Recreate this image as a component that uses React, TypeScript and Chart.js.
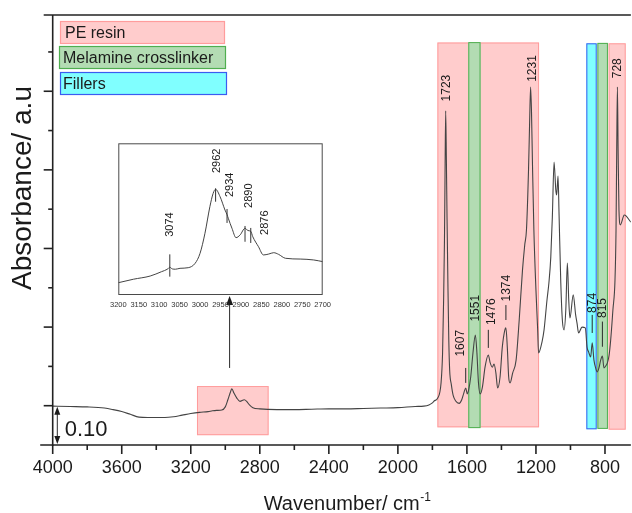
import React, { useEffect, useRef } from 'react';
import { Chart, registerables } from 'chart.js';

Chart.register(...registerables);

const FONT = '"Liberation Sans", Arial, Helvetica, sans-serif';
const INK = '#1b1b1b';

// FTIR spectrum of the coating, 4000–650 cm-1
const wavenumbers = [
  4000, 3900, 3800, 3700, 3650, 3600, 3550, 3500, 3450, 3400, 3350, 3300, 3250, 3200, 3150, 3100,
  3074, 3050, 3020, 3000, 2985, 2970, 2962, 2950, 2934, 2915, 2890, 2876, 2860, 2840, 2800, 2700,
  2600, 2500, 2400, 2300, 2200, 2100, 2000, 1900, 1850, 1820, 1800, 1790, 1770, 1750, 1741, 1735,
  1730, 1727, 1723, 1719, 1715, 1710, 1705, 1700, 1690, 1680, 1665, 1645, 1630, 1618, 1607, 1598,
  1590, 1578, 1565, 1551, 1542, 1533, 1523, 1510, 1495, 1476, 1465, 1453, 1443, 1432, 1422, 1408,
  1395, 1380, 1374, 1366, 1358, 1350, 1335, 1315, 1297, 1278, 1265, 1255, 1243, 1237, 1231, 1226,
  1220, 1212, 1200, 1190, 1185, 1165, 1153, 1136, 1125, 1114, 1105, 1095, 1085, 1080, 1072, 1066,
  1056, 1047, 1037, 1027, 1018, 1010, 1003, 984, 970, 962, 953, 933, 914, 904, 895, 883,
  874, 864, 854, 845, 835, 825, 815, 806, 796, 786, 776, 767, 754, 742, 736, 732,
  728, 724, 719, 711, 688, 650,
];
const absorbance = [
  0.099, 0.098, 0.097, 0.094, 0.090, 0.085, 0.078, 0.071, 0.070, 0.070, 0.070, 0.072, 0.076, 0.080, 0.083, 0.085,
  0.087, 0.088, 0.089, 0.097, 0.115, 0.135, 0.143, 0.132, 0.120, 0.111, 0.115, 0.111, 0.102, 0.095, 0.092, 0.090,
  0.090, 0.091, 0.092, 0.092, 0.093, 0.094, 0.095, 0.098, 0.099, 0.102, 0.107, 0.112, 0.119, 0.157, 0.234, 0.369,
  0.522, 0.674, 0.850, 0.725, 0.573, 0.407, 0.267, 0.191, 0.153, 0.127, 0.112, 0.106, 0.115, 0.132, 0.145, 0.130,
  0.140, 0.173, 0.234, 0.280, 0.234, 0.158, 0.130, 0.148, 0.198, 0.229, 0.209, 0.198, 0.206, 0.183, 0.145, 0.173,
  0.249, 0.293, 0.298, 0.249, 0.173, 0.158, 0.183, 0.216, 0.318, 0.445, 0.509, 0.547, 0.700, 0.814, 0.911, 0.852,
  0.712, 0.547, 0.394, 0.293, 0.234, 0.262, 0.293, 0.369, 0.412, 0.478, 0.580, 0.720, 0.649, 0.636, 0.684, 0.585,
  0.412, 0.318, 0.293, 0.344, 0.463, 0.369, 0.323, 0.382, 0.331, 0.310, 0.285, 0.300, 0.298, 0.249, 0.237, 0.224,
  0.260, 0.216, 0.196, 0.186, 0.196, 0.216, 0.226, 0.196, 0.201, 0.209, 0.229, 0.267, 0.344, 0.420, 0.547, 0.751,
  0.911, 0.751, 0.598, 0.560, 0.585, 0.567,
];

// axis ticks
const majorWavenumberTicks = [4000, 3600, 3200, 2800, 2400, 2000, 1600, 1200, 800];
const minorWavenumberTicks = [3800, 3400, 3000, 2600, 2200, 1800, 1400, 1000];
const majorAbsorbanceTicks = [0.1, 0.3, 0.5, 0.7, 0.9];
const minorAbsorbanceTicks = [0.2, 0.4, 0.6, 0.8, 1.0];

// assigned absorption peaks
const peakPositions = [1723, 1607, 1551, 1476, 1374, 1231, 874, 815, 728];

// inset: C–H stretching region
const insetWavenumbers = [
  3200, 3163, 3122, 3094, 3080, 3074, 3068, 3060, 3049, 3029, 3012, 3000, 2988, 2976, 2968, 2962,
  2951, 2939, 2934, 2931, 2922, 2912, 2902, 2890, 2883, 2876, 2871, 2857, 2845, 2832, 2820, 2808,
  2791, 2755, 2722, 2700,
];
const insetAbsorbance = [
  0.081, 0.104, 0.125, 0.154, 0.170, 0.183, 0.172, 0.170, 0.176, 0.180, 0.209, 0.275, 0.407, 0.582, 0.670, 0.697,
  0.648, 0.560, 0.530, 0.506, 0.440, 0.378, 0.396, 0.440, 0.425, 0.420, 0.384, 0.318, 0.264, 0.270, 0.279, 0.268,
  0.242, 0.237, 0.231, 0.220,
];
const insetTicks = [3200, 3150, 3100, 3050, 3000, 2950, 2900, 2850, 2800, 2750, 2700];
const insetPeakPositions = [3074, 2962, 2934, 2890, 2876];

// band assignment regions
const bandGroups = ['PE resin', 'Melamine crosslinker', 'Fillers'];
const bandGroupOf = [0, 1, 2, 1, 0, 0];
const bandFrom = [1771, 1592, 908, 844, 779, 3164];
const bandTo = [1182, 1521, 848, 783, 680, 2749];
const bandHigh = [1.024, 1.025, 1.022, 1.023, 1.022, 0.150];
const bandLow = [0.045, 0.043, 0.040, 0.041, 0.039, 0.025];

// styling
const bandStyles = [
  { fill: '#ffcccc', edge: '#ff9c9c' },
  { fill: '#b3dcb3', edge: '#4fae4f' },
  { fill: '#80ffff', edge: '#3b5cf0' },
];
const legendBoxes = [
  { x: 60.5, y: 21.5, w: 164, h: 22, tx: 65 },
  { x: 59.5, y: 46.5, w: 166, h: 22, tx: 63 },
  { x: 60.5, y: 72.5, w: 166, h: 22, tx: 63 },
];

// where each peak label and marker sit, in axis units (dx in px)
const peakLabelLayout: Record<number, { text: number; mark?: [number, number]; dx?: number }> = {
  1723: { text: 0.874, dx: 1 },
  1607: { text: 0.225, mark: [0.158, 0.196], dx: -5 },
  1551: { text: 0.314 },
  1476: { text: 0.305, mark: [0.247, 0.293], dx: 3 },
  1374: { text: 0.365, mark: [0.318, 0.356], dx: 1 },
  1231: { text: 0.924, dx: 2 },
  874: { text: 0.336, mark: [0.285, 0.331] },
  815: { text: 0.323, mark: [0.25, 0.314] },
  728: { text: 0.933 },
};
const insetLabelLayout: Record<number, { text: number; mark: [number, number]; dx?: number }> = {
  3074: { text: 0.384, mark: [0.121, 0.268] },
  2962: { text: 0.804, mark: [0.615, 0.703], dx: 1 },
  2934: { text: 0.646, mark: [0.475, 0.567], dx: 3 },
  2890: { text: 0.574, mark: [0.351, 0.455], dx: 4 },
  2876: { text: 0.396, mark: [0.343, 0.442], dx: 14 },
};
const pointerAt = 2975;
const pointerSpan: [number, number] = [0.196, 0.379];

function stroke(ctx: CanvasRenderingContext2D, x1: number, y1: number, x2: number, y2: number) {
  ctx.beginPath();
  ctx.moveTo(x1, y1);
  ctx.lineTo(x2, y2);
  ctx.stroke();
}

function upText(ctx: CanvasRenderingContext2D, text: string, x: number, y: number) {
  ctx.save();
  ctx.translate(x, y);
  ctx.rotate(-Math.PI / 2);
  ctx.textAlign = 'left';
  ctx.textBaseline = 'middle';
  ctx.fillText(text, 0, 0);
  ctx.restore();
}

function arrowHead(ctx: CanvasRenderingContext2D, x: number, y: number, dir: number, w: number, h: number) {
  ctx.beginPath();
  ctx.moveTo(x, y);
  ctx.lineTo(x - w / 2, y + dir * h);
  ctx.lineTo(x + w / 2, y + dir * h);
  ctx.closePath();
  ctx.fill();
}

const spectrumDecor = {
  id: 'spectrumDecor',
  beforeDraw(chart: any) {
    const { ctx } = chart;
    ctx.save();
    ctx.fillStyle = '#ffffff';
    ctx.fillRect(0, 0, chart.width, chart.height);
    ctx.restore();
  },
  beforeDatasetsDraw(chart: any) {
    const { ctx, scales } = chart;
    const { x, y } = scales;
    ctx.save();
    bandFrom.forEach((from, i) => {
      const style = bandStyles[bandGroupOf[i]];
      const l = x.getPixelForValue(from);
      const r = x.getPixelForValue(bandTo[i]);
      const t = y.getPixelForValue(bandHigh[i]);
      const b = y.getPixelForValue(bandLow[i]);
      ctx.fillStyle = style.fill;
      ctx.fillRect(l, t, r - l, b - t);
      ctx.strokeStyle = style.edge;
      ctx.lineWidth = 1;
      ctx.strokeRect(l + 0.5, t + 0.5, r - l - 1, b - t - 1);
    });
    ctx.restore();
  },
  afterDatasetsDraw(chart: any) {
    const { ctx, chartArea: a, scales } = chart;
    const { x, y } = scales;
    ctx.save();

    // frame and axes
    ctx.strokeStyle = '#222';
    ctx.lineWidth = 1.6;
    stroke(ctx, a.left, a.top, a.left, a.bottom + 1);
    stroke(ctx, a.left - 12.5, a.bottom, a.right, a.bottom);
    stroke(ctx, a.left - 9, a.top, a.right, a.top);
    majorWavenumberTicks.forEach((v) => stroke(ctx, x.getPixelForValue(v), a.bottom, x.getPixelForValue(v), a.bottom + 9));
    minorWavenumberTicks.forEach((v) => stroke(ctx, x.getPixelForValue(v), a.bottom, x.getPixelForValue(v), a.bottom + 5));
    majorAbsorbanceTicks.forEach((v) => stroke(ctx, a.left - 9, y.getPixelForValue(v), a.left, y.getPixelForValue(v)));
    minorAbsorbanceTicks.forEach((v) => stroke(ctx, a.left - 4.5, y.getPixelForValue(v), a.left, y.getPixelForValue(v)));

    // peak labels
    ctx.fillStyle = INK;
    ctx.strokeStyle = '#2a2a2a';
    ctx.lineWidth = 1;
    ctx.font = `12px ${FONT}`;
    peakPositions.forEach((wn) => {
      const lay = peakLabelLayout[wn];
      const px = x.getPixelForValue(wn);
      if (lay.mark) stroke(ctx, px, y.getPixelForValue(lay.mark[0]), px, y.getPixelForValue(lay.mark[1]));
      upText(ctx, String(wn), px + (lay.dx || 0), y.getPixelForValue(lay.text));
    });

    // pointer from the C–H band to the inset
    const ax = x.getPixelForValue(pointerAt);
    const aTop = y.getPixelForValue(pointerSpan[1]);
    stroke(ctx, ax, y.getPixelForValue(pointerSpan[0]), ax, aTop + 6);
    arrowHead(ctx, ax, aTop, 1, 7, 9);

    // 0.10 absorbance scale bar
    const sx = a.left + 4.6;
    const s0 = y.getPixelForValue(0);
    const s1 = y.getPixelForValue(0.1);
    stroke(ctx, sx, s1 + 4, sx, s0 - 4);
    arrowHead(ctx, sx, s1 + 1, 1, 6, 8);
    arrowHead(ctx, sx, s0 - 1, -1, 6, 8);
    ctx.font = `22px ${FONT}`;
    ctx.textAlign = 'left';
    ctx.textBaseline = 'alphabetic';
    ctx.fillText('0.10', a.left + 12, s0 - 9);

    // band legend
    ctx.font = `16px ${FONT}`;
    ctx.textBaseline = 'middle';
    bandGroups.forEach((name, i) => {
      const b = legendBoxes[i];
      const st = bandStyles[i];
      ctx.fillStyle = st.fill;
      ctx.fillRect(b.x, b.y, b.w, b.h);
      ctx.strokeStyle = st.edge;
      ctx.lineWidth = 1.2;
      ctx.strokeRect(b.x, b.y, b.w, b.h);
      ctx.fillStyle = INK;
      ctx.fillText(name, b.tx, b.y + b.h / 2 + 1);
    });

    // axis titles
    ctx.fillStyle = INK;
    ctx.font = `20px ${FONT}`;
    const main = 'Wavenumber/ cm';
    const wMain = ctx.measureText(main).width;
    ctx.font = `12px ${FONT}`;
    const wSup = ctx.measureText('-1').width;
    const start = 347 - (wMain + wSup) / 2;
    ctx.textAlign = 'left';
    ctx.textBaseline = 'alphabetic';
    ctx.font = `20px ${FONT}`;
    ctx.fillText(main, start, 510);
    ctx.font = `12px ${FONT}`;
    ctx.fillText('-1', start + wMain + 0.5, 501);

    ctx.save();
    ctx.translate(23, 188);
    ctx.rotate(-Math.PI / 2);
    ctx.font = `28px ${FONT}`;
    ctx.textAlign = 'center';
    ctx.textBaseline = 'middle';
    ctx.fillText('Absorbance/ a.u', 0, 0);
    ctx.restore();

    ctx.restore();
  },
};

const insetDecor = {
  id: 'insetDecor',
  afterDatasetsDraw(chart: any) {
    const { ctx, chartArea: a, scales } = chart;
    const { x, y } = scales;
    ctx.save();
    ctx.strokeStyle = '#4a4a4a';
    ctx.lineWidth = 1;
    ctx.strokeRect(a.left + 0.5, a.top + 0.5, a.right - a.left - 1, a.bottom - a.top - 1);
    ctx.fillStyle = INK;
    ctx.strokeStyle = '#333';
    ctx.font = `11px ${FONT}`;
    insetPeakPositions.forEach((wn) => {
      const lay = insetLabelLayout[wn];
      const px = x.getPixelForValue(wn);
      stroke(ctx, px, y.getPixelForValue(lay.mark[0]), px, y.getPixelForValue(lay.mark[1]));
      upText(ctx, String(wn), px + (lay.dx || 0), y.getPixelForValue(lay.text));
    });
    ctx.restore();
  },
};

export default function App() {
  const mainRef = useRef<HTMLCanvasElement>(null);
  const insetRef = useRef<HTMLCanvasElement>(null);

  useEffect(() => {
    const main = new Chart(mainRef.current as HTMLCanvasElement, {
      type: 'line',
      data: {
        datasets: [
          {
            data: wavenumbers.map((wn, i) => ({ x: wn, y: absorbance[i] })),
            borderColor: '#444',
            borderWidth: 1.1,
            pointRadius: 0,
            cubicInterpolationMode: 'monotone',
          },
        ],
      },
      options: {
        animation: false,
        responsive: false,
        layout: { padding: { left: 52.7, top: 15, right: 0, bottom: 0 } },
        plugins: { legend: { display: false }, tooltip: { enabled: false } },
        scales: {
          x: {
            type: 'linear',
            reverse: true,
            min: 650,
            max: 4000,
            afterBuildTicks: (s: any) => {
              s.ticks = majorWavenumberTicks.map((value) => ({ value }));
            },
            afterFit: (s: any) => {
              s.height = 68;
            },
            grid: { display: false, drawTicks: false },
            border: { display: false },
            ticks: {
              autoSkip: false,
              maxRotation: 0,
              padding: 12,
              color: INK,
              font: { family: FONT, size: 18 },
              callback: (v: any) => String(v),
            },
          },
          y: { display: false, min: 0, max: 1.094 },
        },
      },
      plugins: [spectrumDecor],
    } as any);

    const inset = new Chart(insetRef.current as HTMLCanvasElement, {
      type: 'line',
      data: {
        datasets: [
          {
            data: insetWavenumbers.map((wn, i) => ({ x: wn, y: insetAbsorbance[i] })),
            borderColor: '#444',
            borderWidth: 1,
            pointRadius: 0,
            cubicInterpolationMode: 'monotone',
          },
        ],
      },
      options: {
        animation: false,
        responsive: false,
        layout: { padding: { left: 18.3, right: 17.3, top: 8.3, bottom: 0 } },
        plugins: { legend: { display: false }, tooltip: { enabled: false } },
        scales: {
          x: {
            type: 'linear',
            reverse: true,
            min: 2700,
            max: 3200,
            afterBuildTicks: (s: any) => {
              s.ticks = insetTicks.map((value) => ({ value }));
            },
            afterFit: (s: any) => {
              s.height = 20;
            },
            grid: { display: false, drawTicks: false },
            border: { display: false },
            ticks: {
              autoSkip: false,
              maxRotation: 0,
              padding: 5,
              color: '#333',
              font: { family: FONT, size: 7.5 },
              callback: (v: any) => String(v),
            },
          },
          y: { display: false, min: 0, max: 1 },
        },
      },
      plugins: [insetDecor],
    } as any);

    return () => {
      main.destroy();
      inset.destroy();
    };
  }, []);

  return (
    <div style={{ position: 'absolute', left: 0, top: 0, width: 632, height: 513, background: '#fff' }}>
      <canvas ref={mainRef} width={632} height={513} style={{ position: 'absolute', left: 0, top: 0 }} />
      <canvas ref={insetRef} width={240} height={180} style={{ position: 'absolute', left: 100, top: 135 }} />
    </div>
  );
}
